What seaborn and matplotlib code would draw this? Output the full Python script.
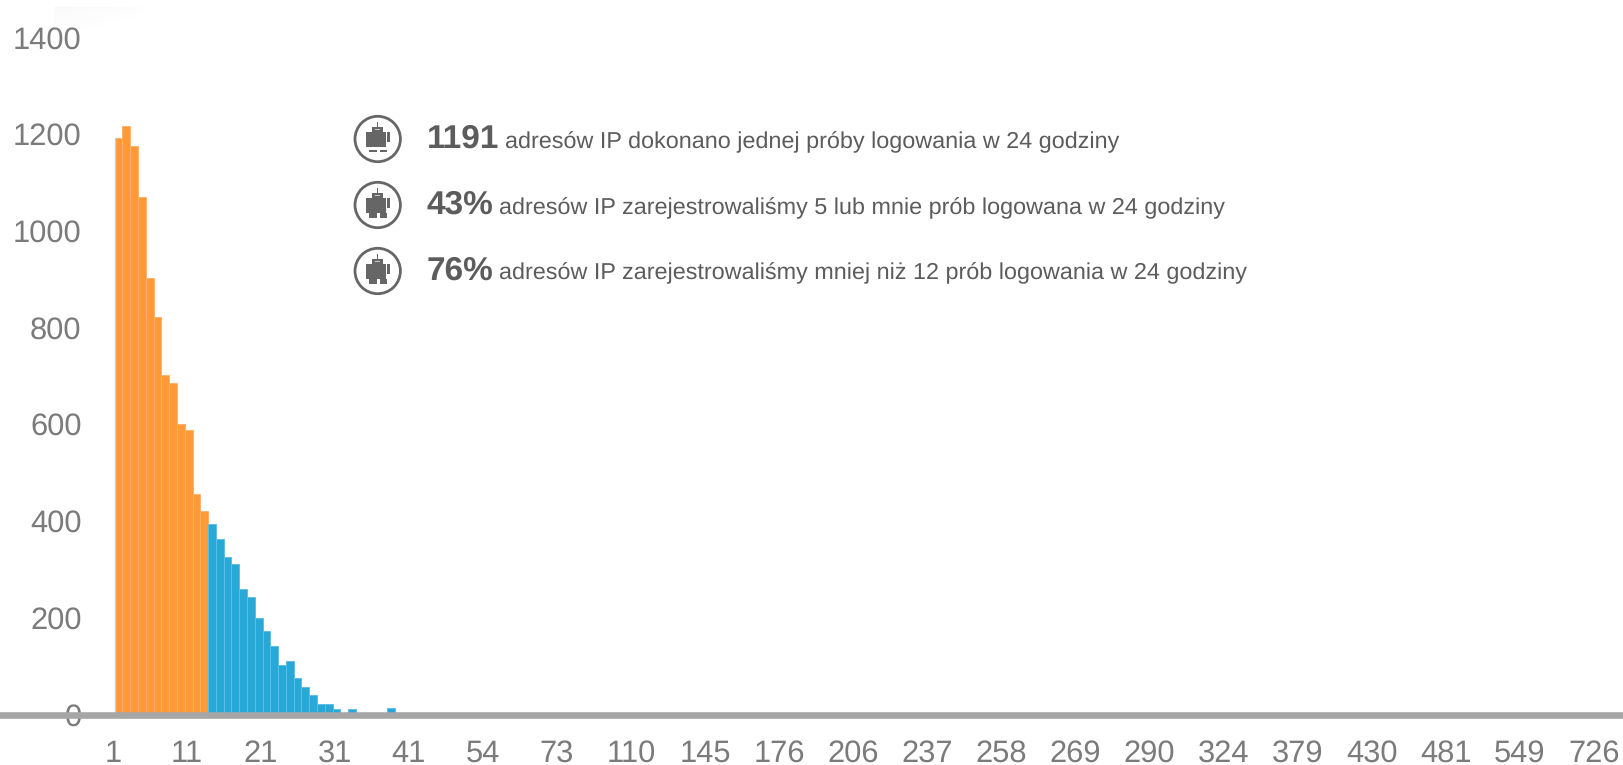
import numpy as np
import pandas as pd
import matplotlib
matplotlib.use("Agg")
import matplotlib.pyplot as plt
from matplotlib.patches import Circle, Rectangle
import seaborn as sns

# Number of IP addresses for each login-attempt bucket
attempt_counts = [1191, 1216, 1175, 1069, 902, 821, 701, 685, 600, 587, 455, 420,
                  394, 361, 325, 310, 258, 243, 199, 172, 141, 101, 110, 74, 56, 39,
                  21, 21, 10, 1, 10, 0, 0, 2, 0, 12, 0, 1, 0, 3, 1, 0, 0, 0, 0, 0,
                  0, 0, 0, 0, 0, 3, 1]
tail_buckets = 142
highlighted_buckets = 12

x_tick_labels = ["1", "11", "21", "31", "41", "54", "73", "110", "145", "176", "206",
                 "237", "258", "269", "290", "324", "379", "430", "481", "549", "726"]
y_ticks = [0, 200, 400, 600, 800, 1000, 1200, 1400]

callouts = [
    ("1191", "adresów IP dokonano jednej próby logowania w 24 godziny"),
    ("43%", "adresów IP zarejestrowaliśmy 5 lub mnie prób logowana w 24 godziny"),
    ("76%", "adresów IP zarejestrowaliśmy mniej niż 12 prób logowania w 24 godziny"),
]

W, H, DPI = 1624, 765, 100
ORANGE, ORANGE_EDGE = "#ff9a36", "#ffb26c"
BLUE, BLUE_EDGE = "#27a8d6", "#5cc0e4"
LABEL_GREY, TEXT_GREY, ICON_GREY = "#7b7b7b", "#5c5c5c", "#666666"
BASELINE_GREY = "#a6a6a6"

sns.set_style("white")
plt.rcParams["font.family"] = ["Liberation Sans", "DejaVu Sans"]
plt.rcParams["text.hinting"] = "no_hinting"
plt.rcParams["text.hinting_factor"] = 8

values = attempt_counts + [0] * tail_buckets
df = pd.DataFrame({
    "bucket": [str(i) for i in range(len(values))],
    "count": values,
    "group": ["low" if i < highlighted_buckets else "high" for i in range(len(values))],
})

fig = plt.figure(figsize=(W / DPI, H / DPI), dpi=DPI)

# Pixel layout of the plot: zero line at y=715, first bar starting at x=114.7
BAR_PX = 7.78
PX_PER_UNIT = 0.4835
ZERO_LINE_PX = 715
ax = fig.add_axes([0, 1 - ZERO_LINE_PX / H, 1, ZERO_LINE_PX / H])
sns.barplot(data=df, x="bucket", y="count", hue="group", dodge=False, width=1,
            palette={"low": ORANGE, "high": BLUE}, legend=False, saturation=1, ax=ax)

for container, edge in zip(ax.containers, (ORANGE_EDGE, BLUE_EDGE)):
    for bar in container:
        bar.set_edgecolor(edge)
        bar.set_linewidth(0.7)

# Thin pale-blue sliver along the left side of the first bar
ax.vlines(-0.5, 0, attempt_counts[0], color="#a5dff2", lw=0.9, zorder=4)

first_centre = 114.7 + BAR_PX / 2
ax.set_xlim(-first_centre / BAR_PX, (W - first_centre) / BAR_PX)
ax.set_ylim(-1 / PX_PER_UNIT, (ZERO_LINE_PX - 1) / PX_PER_UNIT)

# Axis labels are evenly spaced and independent of the bar pitch
label_pitch = 74.05 / BAR_PX
ax.set_xticks([-0.75 + i * label_pitch for i in range(len(x_tick_labels))])
ax.set_xticklabels(x_tick_labels)
ax.set_yticks(y_ticks)
ax.set_xlabel("")
ax.set_ylabel("")
ax.tick_params(axis="x", length=0, pad=17.5, labelsize=22.2, labelcolor=LABEL_GREY)
ax.tick_params(axis="y", length=0, pad=-81.5 * 72 / DPI, labelsize=22.2, labelcolor=LABEL_GREY)
for lbl in ax.get_yticklabels():
    lbl.set_ha("right")

for side in ("top", "left", "right"):
    ax.spines[side].set_visible(False)
ax.spines["bottom"].set_color(BASELINE_GREY)
ax.spines["bottom"].set_linewidth(6.6 * 72 / DPI)
ax.spines["bottom"].set_zorder(5)

# Overlay in pixel coordinates for the callouts and their robot icons
ov = fig.add_axes([0, 0, 1, 1], facecolor="none")
ov.axis("off")

# Faint smudge in the top-left corner, fading towards the lower right
gx, gy = np.meshgrid(np.linspace(0, 1, 60), np.linspace(0, 1, 30))
fade = np.clip(1 - 0.75 * gx - gy, 0, 1)
smudge = np.dstack([np.full_like(fade, 0.9)] * 3 + [fade * 0.22])
ov.imshow(smudge, extent=(54, 144, 40, 7), aspect="auto", interpolation="bilinear", zorder=0)
ov.set_xlim(0, W)
ov.set_ylim(H, 0)


def robot(cx, cy, slim_legs):
    ov.add_patch(Circle((cx, cy), 22.7, fc="white", ec=ICON_GREY, lw=2.0))
    parts = [
        (cx - 0.4, cy - 17, 0.8, 6),      # antenna
        (cx - 5.5, cy - 11.7, 11, 5),     # head
        (cx - 11.2, cy - 7.5, 19.2, 15.8),  # torso
        (cx + 9.7, cy - 7, 2.7, 9.5),     # arm
    ]
    if slim_legs:
        parts += [(cx - 8.7, cy + 10.7, 8.4, 2.4), (cx + 2.3, cy + 10.7, 6.7, 2.4)]
    else:
        parts += [(cx - 8.2, cy + 8, 7.4, 4.7), (cx + 2.3, cy + 8, 6.7, 4.7)]
    for x, y, w, h in parts:
        ov.add_patch(Rectangle((x, y), w, h, fc=ICON_GREY, ec="none"))
    ov.add_patch(Rectangle((cx - 2.2, cy - 10.2), 4.4, 1.4, fc="#c8c8c8", ec="none"))


for (big, rest), icon_y, base_y, rest_x in zip(
        callouts, (139, 205, 271), (148, 214, 279.5), (505, 499, 499)):
    robot(377.7, icon_y, big == "1191")
    ov.text(426.5, base_y, big, fontsize=24, fontweight="bold",
            color=TEXT_GREY, va="baseline", ha="left")
    ov.text(rest_x, base_y, rest, fontsize=16.8, color=TEXT_GREY, va="baseline", ha="left")

fig.savefig("out.png", dpi=DPI, facecolor="white")
